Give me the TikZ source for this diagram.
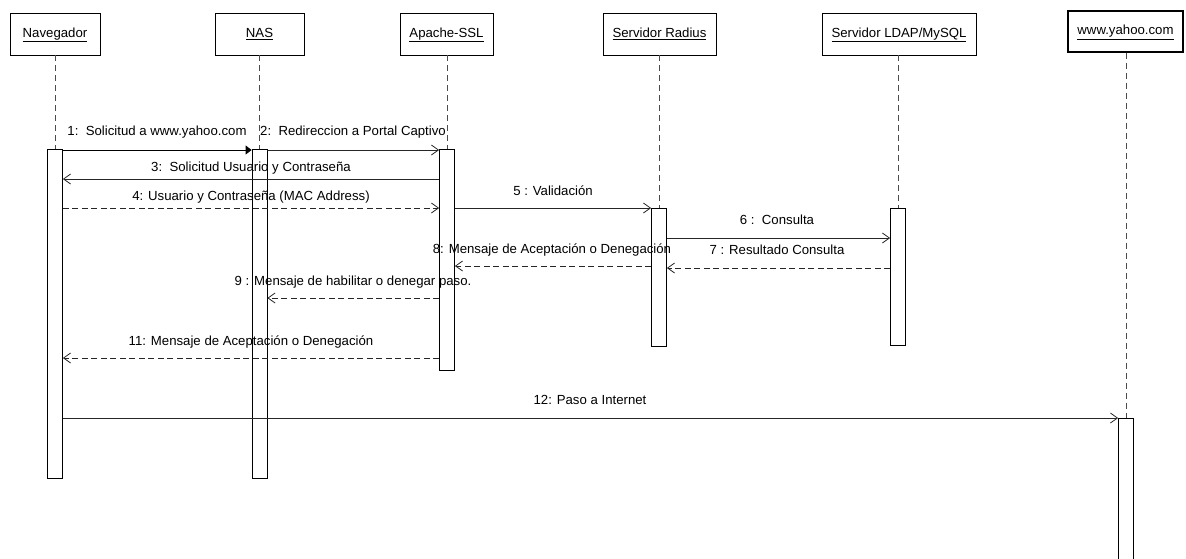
\documentclass[tikz,border=0pt]{standalone}
\usepackage{fontspec}
\setmainfont{Liberation Sans}
\usetikzlibrary{arrows.meta}
\begin{document}
\begin{tikzpicture}[x=1pt,y=-1pt,
  font=\fontsize{13.2}{15}\selectfont,
  hdr/.style={draw=black, line width=0.8pt, fill=white, minimum height=42pt, inner sep=0pt, text height=9.6pt, text depth=2.8pt},
  bar/.style={draw=black, line width=0.8pt, fill=white, minimum width=15pt, inner sep=0pt, anchor=north},
  life/.style={draw=black!70, line width=1pt, dash pattern=on 6pt off 4pt},
  msg/.style={draw=black!85, line width=0.8pt, -{Straight Barb[length=7pt,width=10pt,line width=0.8pt]}},
  ret/.style={msg, dash pattern=on 6pt off 3.5pt},
  lbl/.style={anchor=base, inner sep=0pt},
]
\useasboundingbox (0,0) rectangle (1186,558);

% headers
\node[hdr, minimum width=90pt]  (hnav)  at (55,34)    {\underline{Navegador}};
\node[hdr, minimum width=89pt]  (hnas)  at (259.5,34) {\underline{NAS}};
\node[hdr, minimum width=93pt]  (hap)   at (446.5,34) {\underline{Apache-SSL}};
\node[hdr, minimum width=113pt] (hrad)  at (659.5,34) {\underline{Servidor Radius}};
\node[hdr, minimum width=154pt] (hldap) at (899,34)   {\underline{Servidor LDAP/MySQL}};
\node[hdr, minimum width=115pt, minimum height=41pt, line width=1.2pt] (hyah) at (1125.5,31.5) {\underline{www.yahoo.com}};

% activation bars
\node[bar, minimum height=329pt] (navbar)  at (55,149)    {};
\node[bar, minimum height=329pt] (nasbar)  at (259.5,149) {};
\node[bar, minimum height=221pt] (apbar)   at (447,149)   {};
\node[bar, minimum height=138pt] (radbar)  at (659,208)   {};
\node[bar, minimum height=137pt] (ldapbar) at (898,208)   {};
\node[bar, minimum height=160pt] (yahbar)  at (1126,418)  {};

% lifelines
\draw[life] (navbar.north |- hnav.south) -- (navbar.north);
\draw[life] (nasbar.north |- hnas.south) -- (nasbar.north);
\draw[life] (apbar.north |- hap.south) -- (apbar.north);
\draw[life] (radbar.north |- hrad.south) -- (radbar.north);
\draw[life] (ldapbar.north |- hldap.south) -- (ldapbar.north);
\draw[life] (yahbar.north |- hyah.south) -- (yahbar.north);

% message levels
\coordinate (y1) at (0,150);
\coordinate (y3) at (0,179);
\coordinate (y4) at (0,208);
\coordinate (y6) at (0,238);
\coordinate (y7) at (0,268);
\coordinate (y8) at (0,266);
\coordinate (y9) at (0,298);
\coordinate (y11) at (0,358);
\coordinate (y12) at (0,418);

% messages
\draw[draw=black, line width=0.8pt, -{Triangle[length=6pt,width=9pt]}] (navbar.east |- y1) -- (nasbar.west |- y1);
\draw[msg] (nasbar.east |- y1) -- (apbar.west |- y1);
\draw[msg] (apbar.west |- y3) -- (navbar.east |- y3);
\draw[ret] (navbar.east |- y4) -- (apbar.west |- y4);
\draw[msg] (apbar.east |- y4) -- (radbar.west |- y4);
\draw[msg] (radbar.east |- y6) -- (ldapbar.west |- y6);
\draw[ret] (ldapbar.west |- y7) -- (radbar.east |- y7);
\draw[ret] (radbar.west |- y8) -- (apbar.east |- y8);
\draw[ret] (apbar.west |- y9) -- (nasbar.east |- y9);
\draw[ret] (apbar.west |- y11) -- (navbar.east |- y11);
\draw[msg] (navbar.east |- y12) -- (yahbar.west |- y12);

% labels
\node[lbl] (l1)  at (157,135.5) {1:\ \ Solicitud a www.yahoo.com};
\node[lbl] (l2)  at (353,135.5) {2:\ \ Redireccion a Portal Captivo};
\node[lbl] (l3)  at (251,171.8) {3:\ \ Solicitud Usuario y Contraseña};
\node[lbl] (l4)  at (251,200.8) {4: Usuario y Contraseña (MAC Address)};
\node[lbl] (l5)  at (553,195.8) {5 : Validación};
\node[lbl] (l6)  at (777,224.8) {6 :\ \ Consulta};
\node[lbl] (l7)  at (777,254.8) {7 : Resultado Consulta};
\node[lbl] (l8)  at (552,253.8) {8: Mensaje de Aceptación o Denegación};
\node[lbl] (l9)  at (353,285.8) {9 : Mensaje de habilitar o denegar paso.};
\node[lbl] (l11) at (251,345.8) {11: Mensaje de Aceptación o Denegación};
\node[lbl] (l12) at (590,404.8) {12: Paso a Internet};
\end{tikzpicture}
\end{document}
